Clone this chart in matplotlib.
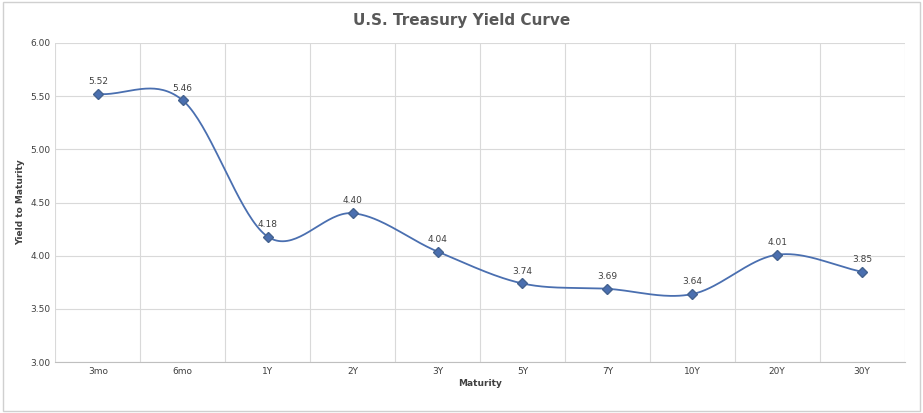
import matplotlib
matplotlib.use("Agg")
import matplotlib.pyplot as plt
import numpy as np

categories = ["3mo","6mo","1Y","2Y","3Y","5Y","7Y","10Y","20Y","30Y"]
yields = [5.52,5.46,4.18,4.40,4.04,3.74,3.69,3.64,4.01,3.85]

fig = plt.figure(figsize=(9.23,4.13), dpi=100)
fig.patches.append(plt.Rectangle((0.003,0.005),0.994,0.99,transform=fig.transFigure,
                                 fill=False,edgecolor="#d0d0d0",lw=1))
ax = fig.add_axes([0.06,0.123,0.92,0.773])
x = np.arange(len(categories))
y = np.array(yields)

# Catmull-Rom smoothing (Excel-like smoothed line)
P = np.column_stack([x,y]).astype(float)
P = np.vstack([P[0]*2-P[1], P, P[-1]*2-P[-2]])
xs, ys = [], []
for i in range(1,len(P)-2):
    p0,p1,p2,p3 = P[i-1],P[i],P[i+1],P[i+2]
    t = np.linspace(0,1,40)[:,None]
    c = 0.5*((2*p1)+(-p0+p2)*t+(2*p0-5*p1+4*p2-p3)*t**2+(-p0+3*p1-3*p2+p3)*t**3)
    xs.extend(c[:,0]); ys.extend(c[:,1])
col = "#4a6fb0"
ax.plot(xs,ys,color=col,lw=1.3,zorder=3)
ax.plot(x,y,"D",color=col,ms=5,zorder=4,markeredgecolor="#44628f")
for xi,yi in zip(x,y):
    ax.annotate(f"{yi:.2f}",(xi,yi),xytext=(0,7),textcoords="offset points",
                ha="center",fontsize=6.5,color="#404040")

ax.set_xlim(-0.5,len(categories)-0.5)
ax.set_ylim(3.0,6.0)
ax.set_yticks(np.arange(3.0,6.01,0.5))
ax.set_yticklabels([f"{v:.2f}" for v in np.arange(3.0,6.01,0.5)],fontsize=6.5,color="#404040")
ax.set_xticks(x)
ax.set_xticklabels(categories,fontsize=6.5,color="#404040")
ax.set_xticks(np.arange(-0.5,len(categories),1),minor=True)
ax.tick_params(which="both",length=0)
ax.grid(True,axis="y",color="#d9d9d9",lw=0.8)
ax.grid(True,axis="x",which="minor",color="#d9d9d9",lw=0.8)
for s in ["top","right","left"]:
    ax.spines[s].set_visible(False)
ax.spines["bottom"].set_color("#bfbfbf")
ax.set_xlabel("Maturity",fontsize=6.5,fontweight="bold",color="#404040",labelpad=2)
ax.set_ylabel("Yield to Maturity",fontsize=6.5,fontweight="bold",color="#404040",labelpad=4)
fig.text(0.5,0.94,"U.S. Treasury Yield Curve",ha="center",fontsize=11,fontweight="bold",color="#595959")
fig.savefig("out.png",dpi=100)
